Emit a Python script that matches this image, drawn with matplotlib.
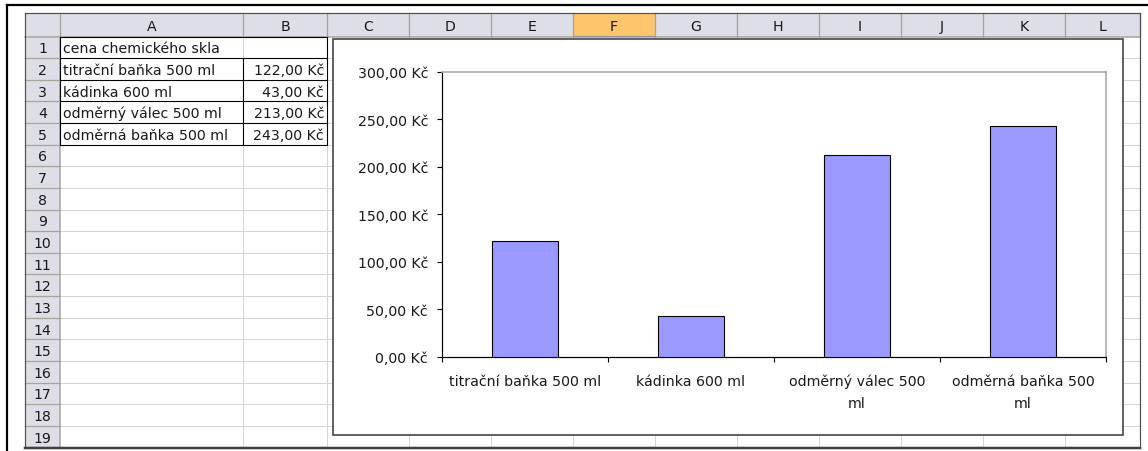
import matplotlib
matplotlib.use("Agg")
import matplotlib.pyplot as plt
from matplotlib.patches import Rectangle

# ---- data ----
title_cell = "cena chemického skla"
categories = ["titrační baňka 500 ml", "kádinka 600 ml", "odměrný válec 500 ml", "odměrná baňka 500 ml"]
values = [122, 43, 213, 243]
x_labels = ["titrační baňka 500 ml", "kádinka 600 ml", "odměrný válec 500\nml", "odměrná baňka 500\nml"]
y_ticks = [0, 50, 100, 150, 200, 250, 300]
col_letters = ["A", "B", "C", "D", "E", "F", "G", "H", "I", "J", "K", "L"]
row_numbers = list(range(1, 20))

def kc(v):
    return f"{v:.2f}".replace(".", ",") + " Kč"

W, H = 1148, 452
plt.rcParams['font.family'] = ['DejaVu Sans']
FS = 10.2
PX = 0.72  # points per pixel at dpi 100
TXT = "#1a1a1a"

fig = plt.figure(figsize=(W / 100, H / 100), dpi=100)
fig.patch.set_facecolor("white")
bg = fig.add_axes([0, 0, 1, 1])
bg.set_xlim(0, W)
bg.set_ylim(H, 0)
bg.axis("off")

# ---- sheet geometry (layout) ----
col_edges = [60, 243, 327, 409, 491, 573, 655, 737, 819, 901, 983, 1065, 1140]
hdr_top, hdr_bot = 14, 37.5
row_h = 21.63
row_edges = [hdr_bot + row_h * i for i in range(len(row_numbers) + 1)]
sheet_left, sheet_right, sheet_bottom = 25, 1140, 449
hdr_bg = "#DEDEE8"
hdr_line = "#A5A59A"
grid_c = "#D4D4D4"

# gridlines in cells
for xe in col_edges[1:-1]:
    bg.plot([xe, xe], [hdr_bot, sheet_bottom], color=grid_c, lw=1 * PX, zorder=1)
for ye in row_edges[1:]:
    bg.plot([col_edges[0], sheet_right], [ye, ye], color=grid_c, lw=1 * PX, zorder=1)

# column header band
bg.add_patch(Rectangle((sheet_left, hdr_top), sheet_right - sheet_left, hdr_bot - hdr_top,
                       facecolor=hdr_bg, edgecolor="none", zorder=2))
# row header band
bg.add_patch(Rectangle((sheet_left, hdr_bot), col_edges[0] - sheet_left, sheet_bottom - hdr_bot,
                       facecolor=hdr_bg, edgecolor="none", zorder=2))
# highlighted column F
fi = col_letters.index("F")
bg.add_patch(Rectangle((col_edges[fi], hdr_top), col_edges[fi + 1] - col_edges[fi], hdr_bot - hdr_top,
                       facecolor="#FFC46E", edgecolor="none", zorder=2.1))
bg.plot([col_edges[fi], col_edges[fi + 1]], [hdr_bot - 1, hdr_bot - 1], color="#6A7BB0", lw=1.2 * PX, zorder=3)

for i, letter in enumerate(col_letters):
    cx = (col_edges[i] + col_edges[i + 1]) / 2
    bg.text(cx, (hdr_top + hdr_bot) / 2 + 1, letter, ha="center", va="center", fontsize=FS, color=TXT, zorder=4)
for xe in col_edges:
    bg.plot([xe, xe], [hdr_top, hdr_bot], color=hdr_line, lw=1.3 * PX, zorder=3)
bg.plot([sheet_left, sheet_right], [hdr_bot, hdr_bot], color=hdr_line, lw=1.5 * PX, zorder=3)

for i, r in enumerate(row_numbers):
    cy = (row_edges[i] + row_edges[i + 1]) / 2 + 1
    bg.text((sheet_left + col_edges[0]) / 2, cy, str(r), ha="center", va="center", fontsize=FS, color=TXT, zorder=4)
for ye in row_edges[1:]:
    bg.plot([sheet_left, col_edges[0]], [ye, ye], color=hdr_line, lw=1.3 * PX, zorder=3)
bg.plot([col_edges[0], col_edges[0]], [hdr_bot, sheet_bottom], color=hdr_line, lw=1.5 * PX, zorder=3)

# sheet border
bg.plot([sheet_left, sheet_right, sheet_right], [hdr_top, hdr_top, sheet_bottom], color="#505050", lw=1.2 * PX, zorder=5)
bg.plot([sheet_left, sheet_left], [hdr_top, sheet_bottom], color="#505050", lw=1.2 * PX, zorder=5)
bg.plot([sheet_left, sheet_right], [sheet_bottom, sheet_bottom], color="#404040", lw=2.5 * PX, zorder=5)

# outer black frame
bg.plot([7, 7], [6, H], color="black", lw=2.2 * PX, zorder=6)
bg.plot([7, W], [6, 6], color="black", lw=2.2 * PX, zorder=6)

# ---- table cells ----
xa, xb, xc = col_edges[0], col_edges[1], col_edges[2]
bg.text(xa + 3, (row_edges[0] + row_edges[1]) / 2 + 1, title_cell, ha="left", va="center", fontsize=FS, color=TXT, zorder=4)
for i, (cat, val) in enumerate(zip(categories, values)):
    cy = (row_edges[i + 1] + row_edges[i + 2]) / 2 + 1
    bg.text(xa + 3, cy, cat, ha="left", va="center", fontsize=FS, color=TXT, zorder=4)
    bg.text(xc - 3, cy, kc(val), ha="right", va="center", fontsize=FS, color=TXT, zorder=4)
tbl_lw = 1.1 * PX
for ye in row_edges[0:6]:
    bg.plot([xa, xc], [ye, ye], color="black", lw=tbl_lw, zorder=4)
bg.plot([xa, xa], [row_edges[0], row_edges[5]], color="black", lw=tbl_lw, zorder=4)
bg.plot([xc, xc], [row_edges[0], row_edges[5]], color="black", lw=tbl_lw, zorder=4)
bg.plot([xb, xb], [row_edges[1], row_edges[5]], color="black", lw=tbl_lw, zorder=4)

# ---- chart object ----
ch_l, ch_t, ch_r, ch_b = 333, 40, 1123, 436
bg.add_patch(Rectangle((ch_l, ch_t), ch_r - ch_l, ch_b - ch_t, facecolor="white",
                       edgecolor="#404040", lw=1.6 * PX, zorder=7))

pl, pt, pr, pb = 442, 73, 1106, 357.7
ax = fig.add_axes([pl / W, 1 - pb / H, (pr - pl) / W, (pb - pt) / H])
ax.set_facecolor("white")
xs = list(range(len(values)))
ax.bar(xs, values, width=0.4, color="#9999FF", edgecolor="black", linewidth=1.1 * PX, zorder=3)
ax.set_xlim(-0.5, len(values) - 0.5)
ax.set_ylim(y_ticks[0], y_ticks[-1])

for s in ["top", "right"]:
    ax.spines[s].set_color("#A8A8A8")
    ax.spines[s].set_linewidth(1.6 * PX)
for s in ["left", "bottom"]:
    ax.spines[s].set_color("black")
    ax.spines[s].set_linewidth(1.2 * PX)

ax.set_yticks(y_ticks)
ax.set_yticklabels([kc(v) for v in y_ticks], fontsize=FS, color=TXT)
ax.tick_params(axis="y", direction="out", length=5 * PX, width=1.1 * PX, pad=9 * PX)

ax.set_xticks([i - 0.5 for i in range(len(values) + 1)])
ax.set_xticklabels([])
ax.tick_params(axis="x", which="major", direction="out", length=5 * PX, width=1.1 * PX)
ax.set_xticks(xs, minor=True)
ax.set_xticklabels(x_labels, minor=True, fontsize=FS, color=TXT, linespacing=1.75)
ax.tick_params(axis="x", which="minor", length=0, pad=17 * PX)

fig.savefig("out.png", dpi=100, facecolor="white")
